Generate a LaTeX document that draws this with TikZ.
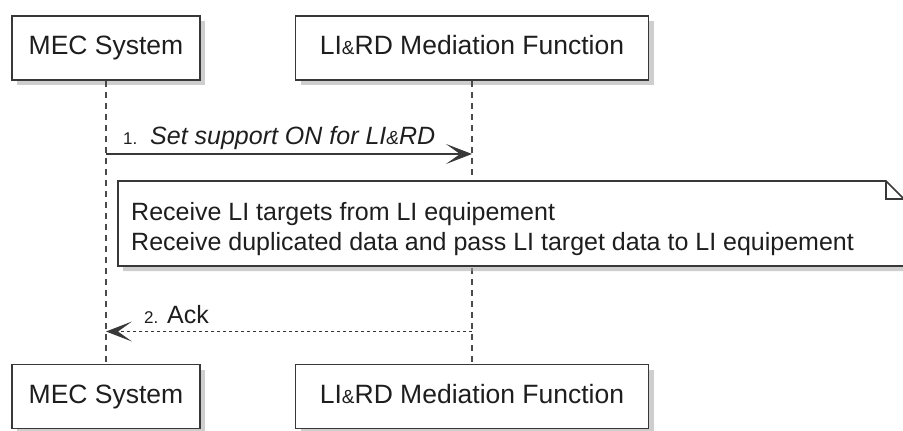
\documentclass[tikz,border=0pt]{standalone}
\usepackage{fontspec}
\setmainfont{Liberation Sans}
\usetikzlibrary{arrows.meta,shadows}
\definecolor{edgec}{HTML}{383838}
\definecolor{lifec}{HTML}{4A4A4A}
\definecolor{textc}{HTML}{1E1E1E}
\newcommand{\smallamp}{{\fontsize{19}{20}\selectfont\&}}
\begin{document}
\begin{tikzpicture}[x=1pt,y=-1pt,
  participant/.style={draw=edgec, line width=1.7pt, fill=white, minimum height=64pt,
    inner sep=0pt, text=textc, font=\fontsize{26.5}{30}\selectfont,
    text height=19pt, text depth=5.5pt,
    drop shadow={shadow xshift=5pt, shadow yshift=-5pt, fill=black!35, opacity=0.55}},
  lifeline/.style={draw=lifec, line width=1.3pt, dash pattern=on 6pt off 5pt},
  msglabel/.style={inner sep=0pt, text=textc, font=\fontsize{25}{28}\selectfont},
  numlabel/.style={inner sep=0pt, text=textc, font=\fontsize{17}{19}\selectfont},
  notetext/.style={inner sep=0pt, text=textc, font=\fontsize{25}{28}\selectfont},
  tipc/.tip={Stealth[length=26pt, width=20pt, inset=14pt]},
  msg/.style={draw=edgec, line width=1.6pt, -{tipc}},
  reply/.style={draw=edgec, line width=1.6pt, dash pattern=on 3pt off 3pt, -{tipc}, tipc/.tip={Stealth[length=26pt, width=20pt, inset=14pt, line width=0pt]}},
]
\useasboundingbox (0,0) rectangle (903,431);

% participants
\node[participant, minimum width=188pt] (mecT) at (106,48) {MEC System};
\node[participant, minimum width=353pt] (medT) at (472,48) {LI\smallamp RD Mediation Function};
\node[participant, minimum width=188pt] (mecB) at (106,396.5) {MEC System};
\node[participant, minimum width=353pt] (medB) at (472,396.5) {LI\smallamp RD Mediation Function};

% lifelines
\draw[lifeline] (mecT.south) -- (mecB.north);
\draw[lifeline] (medT.south) -- (medB.north);

% note
\coordinate (nTL) at (118,181);
\coordinate (nFold) at (886,181);
\coordinate (nFoldR) at (904,199);
\coordinate (nBR) at (904,266);
\coordinate (nBL) at (118,266);
\fill[black!35, opacity=0.55] ([shift={(5,5)}]nTL) -- ([shift={(5,5)}]nFold) -- ([shift={(5,5)}]nFoldR) -- ([shift={(5,5)}]nBR) -- ([shift={(5,5)}]nBL) -- cycle;
\draw[draw=edgec, line width=1.7pt, fill=white] (nTL) -- (nFold) -- (nFoldR) -- (nBR) -- (nBL) -- cycle;
\draw[draw=edgec, line width=1.4pt] (nFold) -- (886,199) -- (nFoldR);
\node[notetext, anchor=base west] (note1) at (131,220) {Receive LI targets from LI equipement};
\node[notetext, anchor=base west] (note2) at (131,250) {Receive duplicated data and pass LI target data to LI equipement};

% message 1
\coordinate (m1a) at (mecT.south |- 0,154);
\coordinate (m1b) at (medT.south |- 0,154);
\draw[msg] (m1a) -- (m1b);
\node[numlabel, anchor=base west] (num1) at (123,144) {1.};
\node[msglabel, anchor=base west] (lab1) at (150,144) {\itshape Set support ON for LI{\fontsize{19}{20}\selectfont\&}RD};

% message 2
\coordinate (m2a) at (mecT.south |- 0,331.5);
\coordinate (m2b) at (medT.south |- 0,331.5);
\draw[reply] (m2b) -- (m2a);
\node[numlabel, anchor=base west] (num2) at (144,323) {2.};
\node[msglabel, anchor=base west] (lab2) at (167,323) {Ack};
\end{tikzpicture}
\end{document}
